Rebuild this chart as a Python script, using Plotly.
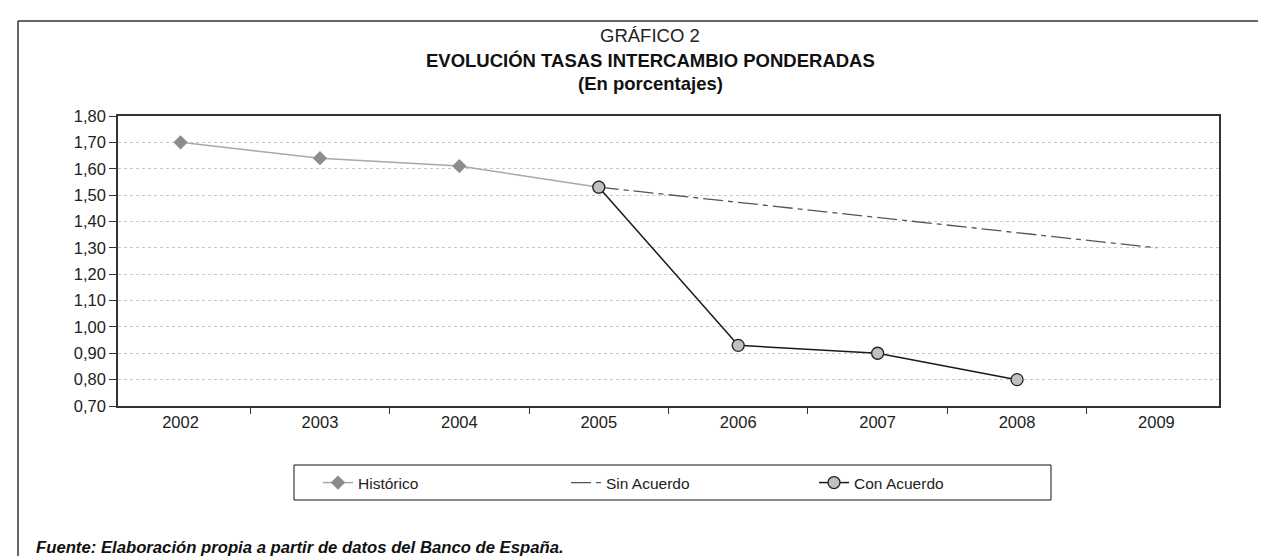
import plotly.graph_objects as go

years = ["2002", "2003", "2004", "2005", "2006", "2007", "2008", "2009"]
historico = [1.70, 1.64, 1.61, 1.53, None, None, None, None]
sin_acuerdo = [None, None, None, 1.53, None, None, None, 1.30]
con_acuerdo = [None, None, None, 1.53, 0.93, 0.90, 0.80, None]

FONT = "Liberation Sans, Arial, Helvetica, sans-serif"
W, H = 1266, 556
L, R, T, B = 110, 55, 108, 158
PW, PH = W - L - R, H - T - B

def px(x):
    return (x - L) / PW

def py(y):
    return (H - B - y) / PH

fig = go.Figure()
fig.add_trace(go.Scatter(
    x=years, y=historico, name="Histórico", mode="lines+markers",
    line=dict(color="#a8a8a8", width=1.5),
    marker=dict(symbol="diamond", size=11, color="#8c8c8c", line=dict(width=0)),
))
fig.add_trace(go.Scatter(
    x=years, y=sin_acuerdo, name="Sin Acuerdo", mode="lines", connectgaps=True,
    line=dict(color="#555555", width=1.3, dash="20px,5px,5px,5px"),
))
fig.add_trace(go.Scatter(
    x=years, y=con_acuerdo, name="Con Acuerdo", mode="lines+markers",
    line=dict(color="#1a1a1a", width=1.5),
    marker=dict(symbol="circle", size=12, color="#c0c0c0", line=dict(color="#222222", width=1.3)),
))

shapes = [
    dict(type="line", xref="paper", yref="paper", x0=px(10), x1=px(1270), y0=py(13), y1=py(13),
         line=dict(color="#333333", width=1.5)),
    dict(type="line", xref="paper", yref="paper", x0=px(10), x1=px(10), y0=py(13), y1=py(560),
         line=dict(color="#333333", width=1.5)),
    dict(type="rect", xref="paper", yref="paper", x0=px(286), x1=px(1043), y0=py(492), y1=py(457),
         line=dict(color="#111111", width=1)),
]

annotations = [
    dict(text="GRÁFICO 2", x=px(642), y=py(28), xref="paper", yref="paper", showarrow=False,
         xanchor="center", yanchor="middle", font=dict(family=FONT, size=18.5, color="#222")),
    dict(text="<b>EVOLUCIÓN TASAS INTERCAMBIO PONDERADAS</b>", x=px(642), y=py(52), xref="paper",
         yref="paper", showarrow=False, xanchor="center", yanchor="middle",
         font=dict(family=FONT, size=18.5, color="#111")),
    dict(text="<b>(En porcentajes)</b>", x=px(642), y=py(75), xref="paper", yref="paper",
         showarrow=False, xanchor="center", yanchor="middle", font=dict(family=FONT, size=18.5, color="#111")),
    dict(text="<b><i>Fuente: Elaboración propia a partir de datos del Banco de España.</i></b>",
         x=px(26), y=py(539), xref="paper", yref="paper", showarrow=False, xanchor="left",
         yanchor="middle", font=dict(family=FONT, size=16.7, color="#111")),
]

fig.update_layout(
    width=W, height=H,
    margin=dict(l=L, r=R, t=T, b=B),
    paper_bgcolor="white", plot_bgcolor="white",
    separators=",.",
    font=dict(family=FONT, size=16, color="#222"),
    showlegend=True,
    legend=dict(orientation="h", x=px(310), y=py(458), xanchor="left", yanchor="top",
                bgcolor="rgba(0,0,0,0)", borderwidth=0,
                entrywidth=203, entrywidthmode="pixels",
                font=dict(family=FONT, size=15.5, color="#222")),
    shapes=shapes,
    annotations=annotations,
    xaxis=dict(type="category", categoryorder="array", categoryarray=years,
               showgrid=False, showline=True, linecolor="#333333", linewidth=1.5, mirror=True,
               ticks="outside", tickson="boundaries", ticklen=6, tickcolor="#333333", tickwidth=1.3,
               tickfont=dict(family=FONT, size=16.5, color="#222"), zeroline=False),
    yaxis=dict(range=[0.7, 1.8], dtick=0.1, tick0=0.7, tickformat=".2f",
               showgrid=True, gridcolor="#c8c8c8", gridwidth=1, griddash="3px,3px",
               showline=True, linecolor="#333333", linewidth=1.5, mirror=True,
               ticks="outside", ticklen=7, tickcolor="#333333", tickwidth=1.3,
               tickfont=dict(family=FONT, size=16.5, color="#222"), zeroline=False),
)

fig.write_html("out.html")
